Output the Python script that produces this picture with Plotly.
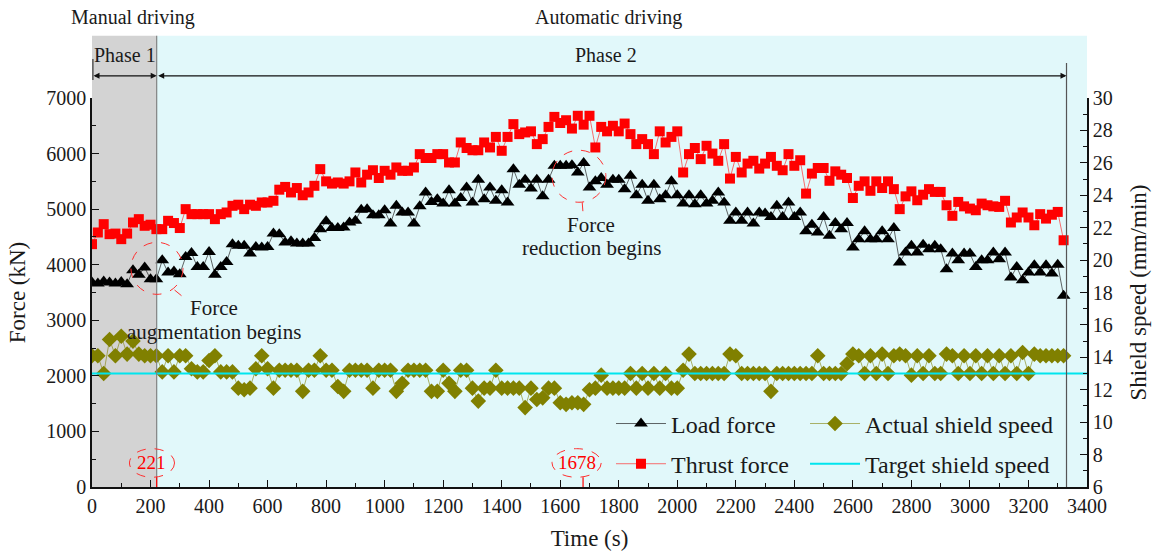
import plotly.graph_objects as go

# Sampling times of the shield-driving record (s)
TIME_S = list(range(0, 3340, 20))

# Load force (kN)
LOAD_FORCE = [
    3680, 3660, 3700, 3680, 3660, 3690, 3650, 3900, 3820, 3950,
    3740, 3740, 4080, 3860, 3880, 3830, 4140, 4210, 3960, 3960,
    4230, 3820, 3960, 4050, 4370, 4340, 4340, 4200, 4320, 4310,
    4320, 4560, 4550, 4400, 4420, 4380, 4380, 4380, 4480, 4640,
    4780, 4660, 4660, 4670, 4760, 4790, 4990, 5000, 4890, 4890,
    4980, 4740, 5060, 4940, 4940, 4740, 5050, 5300, 5130, 5180,
    5100, 5340, 5100, 5200, 5390, 5120, 5530, 5180, 5390, 5150,
    5340, 5120, 5720, 5440, 5530, 5370, 5530, 5230, 5530, 5780,
    5780, 5780, 5790, 5660, 5830, 5390, 5500, 5560, 5440, 5530,
    5530, 5360, 5600, 5250, 5440, 5150, 5440, 5180, 5250, 5500,
    5250, 5100, 5250, 5090, 5250, 5100, 5150, 5300, 5120, 4790,
    4940, 4790, 4940, 4740, 4940, 4920, 4860, 5060, 4860, 5120,
    4860, 4940, 4600, 4720, 4580, 4860, 4520, 4750, 4640, 4750,
    4310, 4460, 4600, 4460, 4460, 4600, 4460, 4660, 4040, 4220,
    4340, 4220, 4360, 4280, 4340, 4280, 3920, 4200, 4080, 4200,
    4200, 3960, 4080, 4080, 4220, 4100, 4220, 3770, 3960, 3720,
    3860, 3990, 3860, 3990, 3840, 4000, 3440,
]

# Thrust force (kN)
THRUST_FORCE = [
    4370, 4580, 4730, 4550, 4560, 4460, 4560, 4760, 4820, 4700,
    4720, 4640, 4640, 4790, 4750, 4660, 5000, 4910, 4910, 4910,
    4910, 4820, 4910, 4940, 5060, 5080, 5000, 5080, 5060, 5120,
    5120, 5150, 5350, 5400, 5300, 5380, 5250, 5300, 5420, 5720,
    5500, 5460, 5480, 5460, 5500, 5660, 5480, 5620, 5700, 5560,
    5690, 5620, 5750, 5690, 5690, 5750, 5990, 5920, 5920, 5990,
    5990, 5840, 5840, 6200, 6100, 6060, 6060, 6200, 6110, 6300,
    6050, 6300, 6530, 6350, 6380, 6400, 6170, 6260, 6480, 6660,
    6550, 6600, 6450, 6680, 6520, 6680, 6110, 6480, 6400, 6500,
    6400, 6540, 6350, 6170, 6260, 6170, 5990, 6400, 6200, 6300,
    6400, 5660, 5990, 6100, 5900, 6140, 6000, 5870, 6170, 5550,
    5940, 5660, 5820, 5870, 5730, 5820, 5940, 5780, 5700, 5990,
    5780, 5880, 5280, 5640, 5740, 5740, 5510, 5680, 5620, 5560,
    5200, 5420, 5500, 5330, 5500, 5380, 5500, 5360, 5000, 5230,
    5320, 5160, 5260, 5360, 5310, 5310, 5070, 4880, 5130, 5050,
    5010, 4980, 5100, 5070, 5050, 5040, 5150, 4760, 4850, 4940,
    4850, 4710, 4910, 4830, 4900, 4950, 4440,
]

# Actual shield speed (mm/min)
ACTUAL_SPEED = [
    14.1, 14.1, 13.0, 15.1, 14.1, 15.3, 14.2, 15.0, 14.2, 14.1,
    14.1, 14.1, 13.1, 14.1, 13.1, 14.1, 14.1, 13.3, 13.1, 13.1,
    13.8, 14.1, 13.1, 13.1, 13.1, 12.1, 12.0, 12.1, 13.3, 14.1,
    13.3, 12.1, 13.2, 13.2, 13.2, 13.2, 11.9, 13.2, 13.2, 14.1,
    13.2, 13.2, 12.2, 11.9, 13.2, 13.2, 13.2, 13.2, 12.1, 13.2,
    13.2, 13.2, 11.9, 12.4, 13.2, 13.2, 13.2, 13.2, 11.9, 11.9,
    13.2, 12.4, 11.9, 13.2, 13.2, 12.1, 11.3, 12.1, 12.1, 13.2,
    12.1, 12.1, 12.1, 12.1, 10.9, 12.1, 11.4, 11.5, 12.1, 12.1,
    11.2, 11.1, 11.2, 11.2, 11.1, 12.0, 12.1, 12.9, 12.1, 12.1,
    12.1, 12.1, 13.0, 12.1, 13.0, 12.1, 13.0, 12.1, 13.0, 12.1,
    12.1, 13.2, 14.2, 13.0, 13.0, 13.0, 13.0, 13.0, 13.0, 14.2,
    14.1, 13.0, 13.0, 13.0, 13.0, 13.0, 11.9, 13.0, 13.0, 13.0,
    13.0, 13.0, 13.0, 13.0, 14.1, 13.0, 13.0, 13.0, 13.0, 13.6,
    14.2, 14.1, 13.0, 14.1, 13.0, 14.2, 13.0, 14.1, 14.2, 14.1,
    12.9, 14.1, 13.0, 14.1, 13.0, 13.0, 14.2, 14.1, 13.0, 14.1,
    13.0, 14.1, 13.0, 14.1, 13.0, 14.1, 13.0, 14.1, 13.0, 14.3,
    13.0, 14.2, 14.1, 14.1, 14.1, 14.1, 14.1,
]

# Target shield speed (mm/min)
TARGET_TIME = [0, 3400]
TARGET_SPEED = [13, 13]

# Key instants (s)
SWITCH_TIME = 221       # manual -> automatic
REDUCTION_TIME = 1678   # force reduction begins
END_TIME = 3330

assert len(TIME_S) == len(LOAD_FORCE) == len(THRUST_FORCE) == len(ACTUAL_SPEED)

FONT = "Liberation Serif, Times New Roman, serif"
TXT = "#1a1a1a"

fig = go.Figure()

fig.add_trace(go.Scatter(
    x=TIME_S, y=LOAD_FORCE, name="Load force", mode="lines+markers",
    line=dict(color="#222222", width=0.7),
    marker=dict(symbol="triangle-up", size=12, color="black"),
    legend="legend", legendgroup="load",
))
fig.add_trace(go.Scatter(
    x=TIME_S, y=THRUST_FORCE, name="Thrust force", mode="lines+markers",
    line=dict(color="#ff3030", width=0.7),
    marker=dict(symbol="square", size=10, color="#ff0000"),
    legend="legend", legendgroup="thrust",
))
fig.add_trace(go.Scatter(
    x=TIME_S, y=ACTUAL_SPEED, name="Actual shield speed", mode="lines+markers",
    line=dict(color="#808000", width=0.6),
    marker=dict(symbol="diamond", size=12, color="#808000"),
    yaxis="y2", legend="legend2", legendgroup="actual",
))
fig.add_trace(go.Scatter(
    x=TARGET_TIME, y=TARGET_SPEED, name="Target shield speed", mode="lines",
    line=dict(color="#00e5ee", width=2),
    yaxis="y2", legend="legend2", legendgroup="target",
))

TOP = 1.16  # top of the shaded phase bands, in plot-height units
RED = "#ff3030"
shapes = [
    dict(type="rect", xref="x", yref="paper", x0=0, x1=SWITCH_TIME, y0=0, y1=TOP,
         fillcolor="#d3d3d3", line=dict(width=0), layer="below"),
    dict(type="rect", xref="x", yref="paper", x0=SWITCH_TIME, x1=3400, y0=0, y1=TOP,
         fillcolor="#e1f8fa", line=dict(width=0), layer="below"),
    dict(type="line", xref="x", yref="paper", x0=SWITCH_TIME, x1=SWITCH_TIME, y0=0, y1=TOP,
         line=dict(color="#808080", width=1.2)),
    dict(type="line", xref="x", yref="paper", x0=END_TIME, x1=END_TIME, y0=0, y1=1.09,
         line=dict(color="#555555", width=1.2)),
    dict(type="line", xref="x", yref="paper", x0=3, x1=3, y0=1.046, y1=1.100,
         line=dict(color="#555555", width=1.5)),
    # highlighted load-force points
    dict(type="circle", xref="x", yref="y", x0=133, x1=311, y0=3467, y1=4403,
         line=dict(color=RED, width=1, dash="dash")),
    dict(type="circle", xref="x", yref="y", x0=1572, x1=1756, y0=5124, y1=6060,
         line=dict(color=RED, width=1, dash="dash")),
    dict(type="line", xref="x", yref="y", x0=282, x1=325, y0=3545, y1=3360,
         line=dict(color=RED, width=1, dash="dash")),
    dict(type="line", xref="x", yref="y", x0=1675, x1=1678, y0=5125, y1=4925,
         line=dict(color=RED, width=1, dash="dash")),
    # marks around the key instants on the time axis
    dict(type="circle", xref="x", yref="y", x0=128, x1=282, y0=175, y1=690,
         line=dict(color=RED, width=1, dash="dash")),
    dict(type="circle", xref="x", yref="y", x0=1572, x1=1740, y0=175, y1=690,
         line=dict(color=RED, width=1, dash="dash")),
    dict(type="line", xref="x", yref="y", x0=SWITCH_TIME, x1=SWITCH_TIME, y0=0, y1=175,
         line=dict(color="#ff0000", width=1.2)),
    dict(type="line", xref="x", yref="y", x0=REDUCTION_TIME, x1=REDUCTION_TIME, y0=0, y1=175,
         line=dict(color="#ff0000", width=1.2)),
]

ARROW_Y = 1.057


def label(x, y, text, size=20, color=TXT, yref="paper"):
    return dict(x=x, y=y, xref="x", yref=yref, text=text, showarrow=False,
                xanchor="center", yanchor="middle",
                font=dict(size=size, color=color, family=FONT))


annotations = [
    dict(x=SWITCH_TIME, y=ARROW_Y, xref="x", yref="paper", ax=0, ay=0,
         axref="x", ayref="pixel", text="", showarrow=True, arrowhead=2,
         arrowside="end+start", arrowsize=1, arrowwidth=1.2, arrowcolor="#111111",
         standoff=0, startstandoff=0),
    dict(x=END_TIME, y=ARROW_Y, xref="x", yref="paper", ax=SWITCH_TIME, ay=0,
         axref="x", ayref="pixel", text="", showarrow=True, arrowhead=2,
         arrowside="end+start", arrowsize=1, arrowwidth=1.2, arrowcolor="#111111",
         standoff=0, startstandoff=0),
    label(140, 1.206, "Manual driving"),
    label(1764, 1.206, "Automatic driving"),
    label(113, 1.11, "Phase 1"),
    label(1757, 1.11, "Phase 2"),
    label(417, 3215, "Force", 21, yref="y"),
    label(417, 2795, "augmentation begins", 21, yref="y"),
    label(1706, 4709, "Force", 21, yref="y"),
    label(1706, 4295, "reduction begins", 21, yref="y"),
    label(205, 432, "221", 19, "#ff0000", yref="y"),
    label(1656, 432, "1678", 19, "#ff0000", yref="y"),
]

axis_common = dict(
    showline=True, linecolor="#111111", linewidth=1.5, mirror=False,
    ticks="inside", ticklen=7, tickwidth=1.3, tickcolor="#111111",
    showgrid=False, zeroline=False, automargin=False,
    tickfont=dict(size=20, color=TXT, family=FONT),
)

legend_common = dict(
    orientation="v", xanchor="left", yanchor="top", itemwidth=50,
    bgcolor="rgba(0,0,0,0)", font=dict(size=24, color=TXT, family=FONT),
    tracegroupgap=6,
)

fig.update_layout(
    width=1153, height=552,
    margin=dict(l=92, r=66, t=98, b=65),
    paper_bgcolor="white", plot_bgcolor="white",
    font=dict(family=FONT, color=TXT),
    xaxis=dict(
        range=[0, 3400], dtick=200, tick0=0,
        minor=dict(dtick=100, ticks="inside", ticklen=4, tickcolor="#111111"),
        title=dict(text="Time (s)", font=dict(size=23, color=TXT, family=FONT), standoff=14),
        **axis_common,
    ),
    yaxis=dict(
        range=[0, 7000], dtick=1000, tick0=0,
        minor=dict(dtick=500, ticks="inside", ticklen=4, tickcolor="#111111"),
        title=dict(text="Force (kN)", font=dict(size=23, color=TXT, family=FONT), standoff=14),
        **axis_common,
    ),
    yaxis2=dict(
        range=[6, 30], dtick=2, tick0=6, overlaying="y", side="right",
        minor=dict(dtick=1, ticks="inside", ticklen=4, tickcolor="#111111"),
        title=dict(text="Shield speed (mm/min)", font=dict(size=23, color=TXT, family=FONT),
                   standoff=18),
        **axis_common,
    ),
    legend=dict(x=0.5216, y=0.22, **legend_common),
    legend2=dict(x=0.7166, y=0.22, **legend_common),
    shapes=shapes,
    annotations=annotations,
)

fig.write_html("out.html")
